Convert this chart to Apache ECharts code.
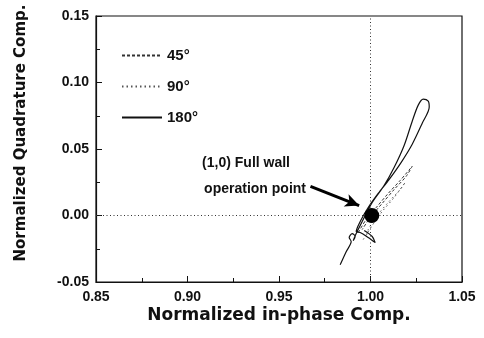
<!DOCTYPE html>
<html>
<head>
<meta charset="utf-8">
<script src="https://cdn.jsdelivr.net/npm/echarts@6/dist/echarts.min.js"></script>
<style>html,body{margin:0;padding:0;background:#fff}#c{width:484px;height:338px}</style>
</head>
<body>
<div id="c"></div>
<script>
// ---- data ----
const xTickLabels = ['0.85', '0.90', '0.95', '1.00', '1.05'];
const yTickLabels = ['-0.05', '0.00', '0.05', '0.10', '0.15'];
const seriesNames = ['45°', '90°', '180°'];
const s45 = [
  [0.99328, -0.0128], [0.99765, -0.0030], [1.00312, 0.0060], [1.00968, 0.0166],
  [1.01624, 0.0264], [1.02280, 0.0370], [1.01946, 0.0294], [1.01296, 0.0196],
  [1.00640, 0.0091], [0.99984, -0.0015], [0.99546, -0.0106]
];
const s90 = [
  [0.99601, -0.0181], [1.00093, -0.0075], [1.00640, 0.0030], [1.01296, 0.0136],
  [1.01897, 0.0249], [1.01624, 0.0196], [1.00968, 0.0098], [1.00366, 0.0000],
  [0.99874, -0.0106], [0.99765, -0.0166]
];
const s180 = [
  [0.98343, -0.0370], [0.98671, -0.0272], [0.98945, -0.0196], [0.98835, -0.0166],
  [0.99000, -0.0136], [0.99163, -0.0158], [0.99054, -0.0189], [0.99218, -0.0136],
  [0.99546, -0.0045], [1.00093, 0.0098], [1.00749, 0.0226], [1.01296, 0.0362],
  [1.01843, 0.0528], [1.02280, 0.0709], [1.02608, 0.0830], [1.02881, 0.0875],
  [1.03155, 0.0860], [1.03209, 0.0815], [1.02827, 0.0694], [1.02280, 0.0536],
  [1.01679, 0.0400], [1.01023, 0.0272], [1.00421, 0.0166], [0.99874, 0.0060],
  [0.99437, -0.0045], [0.99218, -0.0121], [0.99437, -0.0128], [0.99874, -0.0166],
  [1.00257, -0.0204], [1.00093, -0.0158], [0.99656, -0.0113]
];
const opPoint = [[1.0007, 0.0]];
const arrowFrom = [0.9672, 0.0219];
const arrowTo = [0.9938, 0.0075];
const annotLines = ['(1,0) Full wall', 'operation point'];
const xTitle = 'Normalized in-phase Comp.';
const yTitle = 'Normalized Quadrature Comp.';

// ---- chart ----
const chart = echarts.init(document.getElementById('c'));
const tickFont = {fontFamily: 'Liberation Sans', fontWeight: 'bold', fontSize: 14, color: '#111'};
chart.setOption({
  animation: false,
  backgroundColor: '#fff',
  grid: {left: 96, right: 22, top: 16, bottom: 56, show: true, borderColor: '#111', borderWidth: 1.2},
  legend: {
    data: seriesNames, orient: 'vertical', left: 116, top: 43,
    itemWidth: 40, itemHeight: 14, itemGap: 16,
    itemStyle: {opacity: 0},
    textStyle: {fontFamily: 'Liberation Sans', fontWeight: 'bold', fontSize: 15, color: '#111'}
  },
  xAxis: {
    type: 'value', min: 0.85, max: 1.05, interval: 0.05,
    axisLine: {show: true, onZero: false, lineStyle: {color: '#111', width: 1.2}},
    axisTick: {inside: true, length: 6, lineStyle: {color: '#111'}},
    minorTick: {show: true, splitNumber: 2, length: 4, lineStyle: {color: '#111'}},
    splitLine: {show: false},
    axisLabel: Object.assign({margin: 8, formatter: (v) => xTickLabels[Math.round((v - 0.85) / 0.05)]}, tickFont)
  },
  yAxis: {
    type: 'value', min: -0.05, max: 0.15, interval: 0.05,
    axisLine: {show: true, onZero: false, lineStyle: {color: '#111', width: 1.2}},
    axisTick: {inside: true, length: 6, lineStyle: {color: '#111'}},
    minorTick: {show: true, splitNumber: 2, length: 4, lineStyle: {color: '#111'}},
    splitLine: {show: false},
    axisLabel: Object.assign({margin: 7, formatter: (v) => yTickLabels[Math.round((v + 0.05) / 0.05)]}, tickFont)
  },
  graphic: [
    {type: 'text', x: 279, y: 316, style: {text: xTitle, align: 'center', verticalAlign: 'middle',
      font: 'bold 17px "DejaVu Sans"', fill: '#111'}},
    {type: 'text', x: 21, y: 133, rotation: Math.PI / 2, style: {text: yTitle, align: 'center', verticalAlign: 'middle',
      font: 'bold 15px "DejaVu Sans"', fill: '#111'}},
    {type: 'text', x: 290, y: 163, style: {text: annotLines[0], align: 'right', verticalAlign: 'middle',
      font: 'bold 14px "Liberation Sans"', fill: '#111'}},
    {type: 'text', x: 306, y: 189, style: {text: annotLines[1], align: 'right', verticalAlign: 'middle',
      font: 'bold 14px "Liberation Sans"', fill: '#111'}}
  ],
  series: [
    {name: seriesNames[0], type: 'line', data: s45, showSymbol: false, symbol: 'none', smooth: 0.3,
      lineStyle: {color: '#333', width: 1, type: [3, 2]}, itemStyle: {color: '#333'}},
    {name: seriesNames[1], type: 'line', data: s90, showSymbol: false, symbol: 'none', smooth: 0.3,
      lineStyle: {color: '#555', width: 1, type: [1.5, 3]}, itemStyle: {color: '#555'}},
    {name: seriesNames[2], type: 'line', data: s180, showSymbol: false, symbol: 'none', smooth: 0.3,
      lineStyle: {color: '#111', width: 1.2}, itemStyle: {color: '#111'}},
    {name: 'op', type: 'scatter', data: opPoint, symbolSize: 15, itemStyle: {color: '#000', opacity: 1}, z: 10,
      markLine: {
        silent: true, symbol: ['none', 'none'], label: {show: false},
        lineStyle: {color: '#333', type: [1, 2.5], width: 1},
        data: [{xAxis: 1.0}, {yAxis: 0}]
      }},
    {name: 'arrow', type: 'line', data: [], markLine: {
      silent: true, symbol: ['none', 'arrow'], symbolSize: [10, 14], label: {show: false},
      lineStyle: {color: '#000', type: 'solid', width: 3},
      data: [[{coord: arrowFrom}, {coord: arrowTo}]]
    }}
  ]
});
</script>
</body>
</html>
